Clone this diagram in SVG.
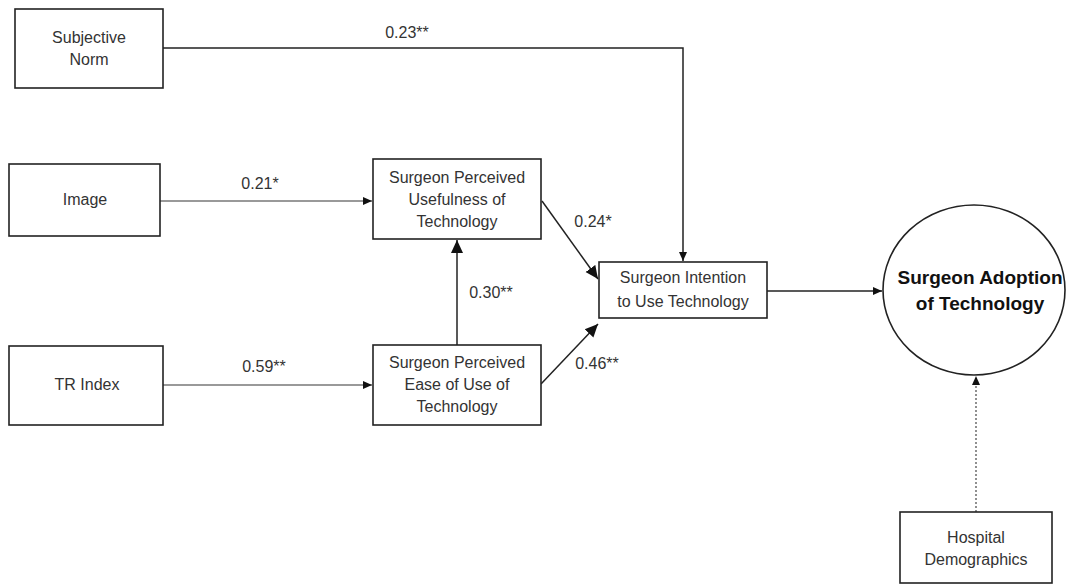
<svg xmlns="http://www.w3.org/2000/svg" width="1066" height="584" viewBox="0 0 1066 584">
<style>
.box{fill:#fff;stroke:#222;stroke-width:1.6}
.t{font-family:"Liberation Sans",Arial,sans-serif;font-size:16px;fill:#333;text-anchor:middle}
.b{font-family:"Liberation Sans",Arial,sans-serif;font-size:19px;font-weight:bold;fill:#111;text-anchor:middle}
.c{fill:none;stroke:#222;stroke-width:1.5}
.g{fill:none;stroke:#777;stroke-width:1.5}
</style>
<defs>
<marker id="ah" markerUnits="userSpaceOnUse" markerWidth="14" markerHeight="14" viewBox="0 0 14 14" refX="13" refY="7" orient="auto">
<path d="M0,1 L13,7 L0,13 Z" fill="#111"/>
</marker>
<marker id="as" markerUnits="userSpaceOnUse" markerWidth="10" markerHeight="10" viewBox="0 0 10 10" refX="9" refY="5" orient="auto">
<path d="M0,1 L9,5 L0,9 Z" fill="#111"/>
</marker>
</defs>
<rect width="1066" height="584" fill="#fff"/>
<g id="connectors">
<polyline class="c" points="163,48 683,48 683,261" marker-end="url(#as)"/>
<line class="g" x1="160" y1="201" x2="372" y2="201" marker-end="url(#as)"/>
<line class="g" x1="163" y1="385" x2="372" y2="385" marker-end="url(#as)"/>
<line class="c" x1="457" y1="345" x2="457" y2="240" marker-end="url(#ah)"/>
<line class="c" x1="542" y1="201" x2="598" y2="279" marker-end="url(#ah)"/>
<line class="c" x1="541" y1="384" x2="598" y2="324" marker-end="url(#ah)"/>
<line class="c" x1="767" y1="291" x2="882" y2="291" marker-end="url(#as)"/>
<line x1="976" y1="512" x2="976" y2="376" stroke="#555" stroke-width="1.3" stroke-dasharray="2,2" marker-end="url(#as)"/>
<text class="t" x="407" y="38">0.23**</text>
<text class="t" x="260" y="189">0.21*</text>
<text class="t" x="264" y="372">0.59**</text>
<text class="t" x="593" y="227">0.24*</text>
<text class="t" x="491" y="298">0.30**</text>
<text class="t" x="597" y="369">0.46**</text>
</g>
<g id="subjective-norm">
<rect class="box" x="15" y="9" width="148" height="79"/>
<text class="t" x="89" y="43">Subjective</text>
<text class="t" x="89" y="65">Norm</text>
</g>
<g id="image">
<rect class="box" x="9" y="164" width="151" height="72"/>
<text class="t" x="85" y="205">Image</text>
</g>
<g id="tr-index">
<rect class="box" x="9" y="346" width="154" height="79"/>
<text class="t" x="87" y="390">TR Index</text>
</g>
<g id="usefulness">
<rect class="box" x="373" y="159" width="168" height="80"/>
<text class="t" x="457" y="183">Surgeon Perceived</text>
<text class="t" x="457" y="205">Usefulness of</text>
<text class="t" x="457" y="227">Technology</text>
</g>
<g id="ease-of-use">
<rect class="box" x="373" y="345" width="168" height="80"/>
<text class="t" x="457" y="368">Surgeon Perceived</text>
<text class="t" x="457" y="390">Ease of Use of</text>
<text class="t" x="457" y="412">Technology</text>
</g>
<g id="intention">
<rect class="box" x="599" y="262" width="168" height="56"/>
<text class="t" x="683" y="283">Surgeon Intention</text>
<text class="t" x="683" y="307">to Use Technology</text>
</g>
<g id="adoption">
<ellipse cx="974" cy="290" rx="91" ry="85" fill="#fff" stroke="#222" stroke-width="1.6"/>
<text class="b" x="980" y="284">Surgeon Adoption</text>
<text class="b" x="980" y="310">of Technology</text>
</g>
<g id="hospital-demographics">
<rect class="box" x="900" y="512" width="152" height="71"/>
<text class="t" x="976" y="543">Hospital</text>
<text class="t" x="976" y="565">Demographics</text>
</g>
</svg>
